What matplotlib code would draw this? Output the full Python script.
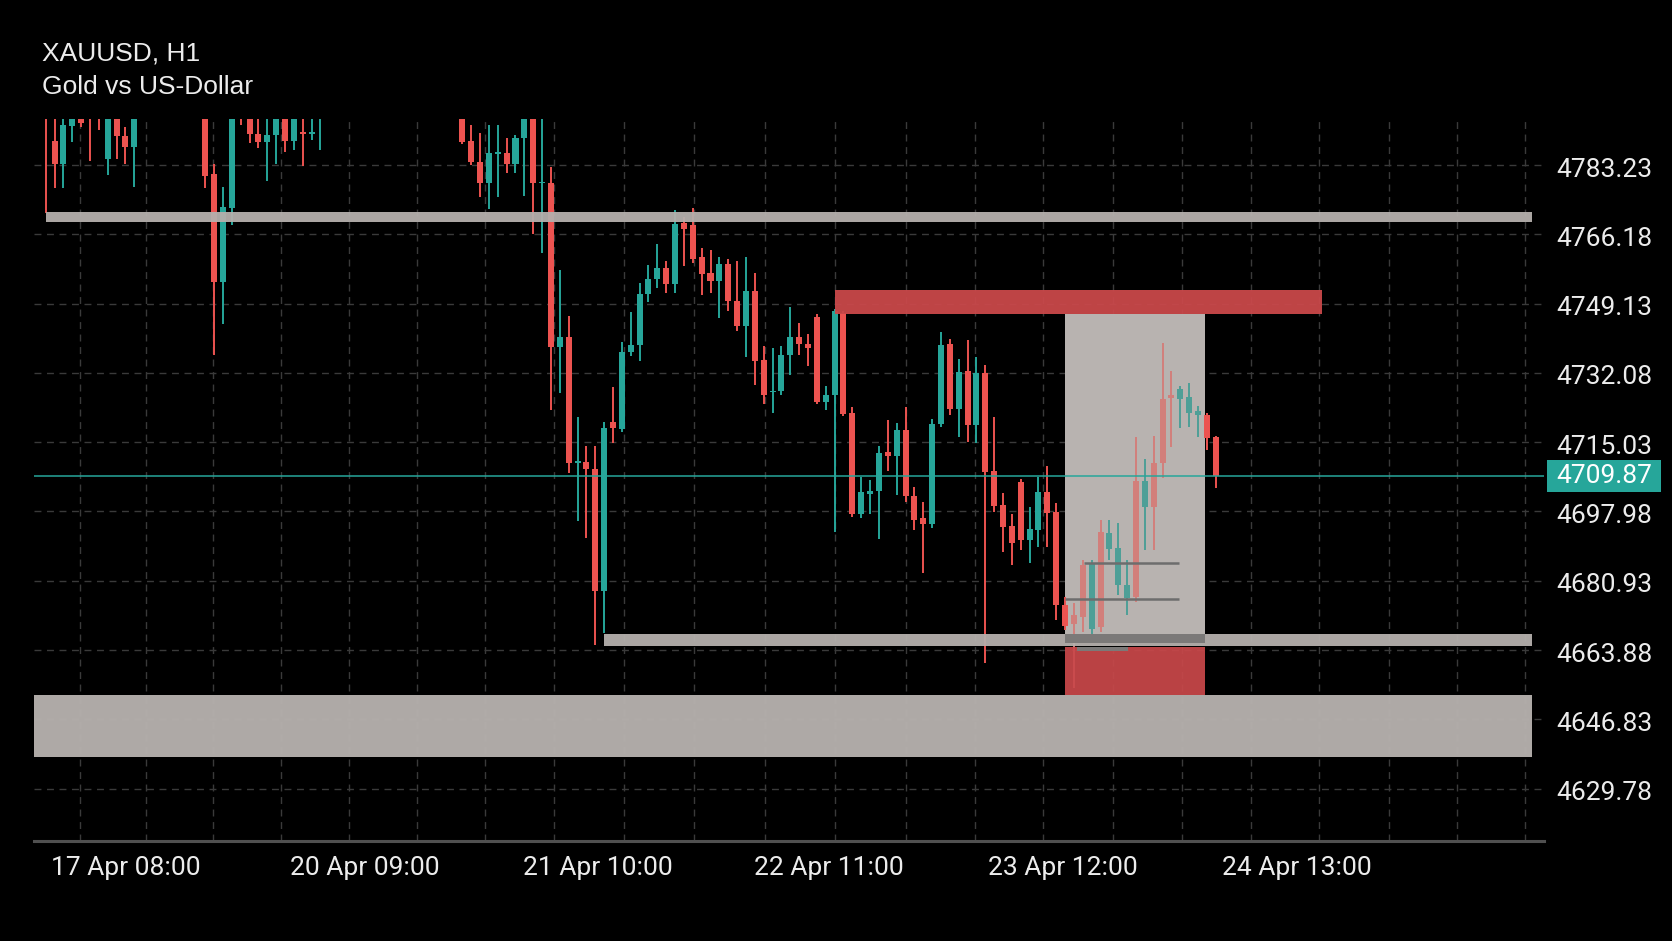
import matplotlib
matplotlib.use("Agg")
import matplotlib.pyplot as plt
import matplotlib.transforms as mtransforms
from matplotlib.patches import Rectangle
import numpy as np

# XAUUSD H1 candles, one entry per bar (bars above the visible range are still kept)
opens = [4806.0, 4789.2, 4783.6, 4792.9, 4794.7, 4800.0, 4799.0, 4784.6, 4795.5, 4790.4,
         4787.6, 4797.0, 4801.0, 4804.0, 4802.0, 4806.0, 4810.0, 4805.0, 4803.0, 4780.9,
         4754.4, 4772.6, 4799.0, 4796.5, 4790.9, 4788.8, 4790.6, 4795.5, 4789.2, 4791.4,
         4790.9, 4796.0, 4799.0, 4802.0, 4806.0, 4803.0, 4805.0, 4810.0, 4808.0, 4812.0,
         4815.0, 4812.0, 4809.0, 4811.0, 4807.0, 4804.0, 4806.0, 4797.0, 4789.1, 4784.0,
         4778.9, 4786.0, 4786.1, 4783.5, 4789.8, 4796.0, 4778.7, 4778.9, 4738.4, 4740.8,
         4710.0, 4710.2, 4708.4, 4678.3, 4719.9, 4718.3, 4737.2, 4738.9, 4751.4, 4755.1,
         4757.8, 4754.0, 4768.9, 4768.4, 4760.6, 4756.6, 4754.6, 4758.8, 4749.8, 4743.6,
         4752.2, 4735.3, 4727.4, 4727.6, 4736.4, 4740.8, 4739.3, 4745.9, 4725.0, 4726.7,
         4746.7, 4722.1, 4697.3, 4702.3, 4703.1, 4712.5, 4711.6, 4718.0, 4701.8, 4696.3,
         4695.0, 4719.6, 4739.2, 4723.2, 4732.5, 4719.3, 4732.0, 4708.0, 4699.6, 4694.4,
         4705.3, 4691.0, 4693.4, 4702.9, 4697.9, 4675.0, 4670.3, 4672.1, 4685.1, 4669.6,
         4692.7, 4689.0, 4679.9, 4677.0, 4705.5, 4699.2, 4710.0, 4725.8, 4728.0, 4726.1,
         4722.6, 4721.7, 4716.2]
highs = [4808.0, 4796.0, 4796.0, 4797.0, 4796.0, 4802.0, 4801.0, 4797.0, 4797.0, 4792.7,
         4798.0, 4803.0, 4806.0, 4809.0, 4808.0, 4812.0, 4813.0, 4808.0, 4806.0, 4783.6,
         4777.7, 4799.0, 4800.0, 4798.0, 4795.5, 4795.5, 4797.0, 4797.0, 4797.0, 4796.0,
         4795.5, 4800.0, 4804.0, 4808.0, 4810.0, 4807.0, 4812.0, 4815.0, 4813.0, 4818.0,
         4819.0, 4816.0, 4813.0, 4814.0, 4810.0, 4808.0, 4809.0, 4799.0, 4793.1, 4791.0,
         4793.1, 4793.1, 4789.8, 4790.6, 4798.0, 4798.0, 4796.0, 4782.8, 4757.4, 4746.2,
         4721.3, 4714.1, 4714.1, 4720.1, 4728.7, 4739.8, 4747.1, 4754.1, 4758.6, 4763.8,
         4759.7, 4772.2, 4770.5, 4772.6, 4762.8, 4762.3, 4760.6, 4760.1, 4759.7, 4760.6,
         4756.7, 4738.8, 4738.2, 4738.6, 4748.4, 4744.3, 4741.7, 4746.5, 4728.9, 4747.8,
         4747.4, 4723.7, 4706.5, 4705.7, 4714.1, 4720.5, 4719.8, 4723.7, 4704.0, 4700.4,
         4720.7, 4742.2, 4740.3, 4735.5, 4740.1, 4735.9, 4734.1, 4721.3, 4702.6, 4697.4,
         4705.9, 4699.0, 4706.5, 4709.2, 4700.0, 4677.0, 4675.5, 4686.1, 4686.1, 4695.9,
         4695.9, 4695.2, 4686.1, 4716.4, 4710.8, 4716.6, 4739.4, 4732.6, 4728.9, 4729.5,
         4723.9, 4722.1, 4716.6]
lows = [4771.5, 4777.5, 4777.5, 4789.0, 4792.6, 4784.3, 4791.8, 4780.8, 4784.6, 4783.6,
        4777.9, 4796.0, 4798.0, 4800.0, 4799.0, 4803.0, 4804.0, 4799.0, 4777.5, 4736.5,
        4744.0, 4768.5, 4793.1, 4788.7, 4787.3, 4779.4, 4783.6, 4786.5, 4786.8, 4783.1,
        4789.4, 4786.9, 4797.0, 4800.0, 4801.0, 4798.0, 4803.0, 4806.0, 4804.0, 4809.0,
        4810.0, 4807.0, 4804.0, 4805.0, 4801.0, 4799.0, 4800.0, 4788.3, 4783.2, 4775.3,
        4772.3, 4775.3, 4781.3, 4781.2, 4775.6, 4766.3, 4761.7, 4723.0, 4727.1, 4707.5,
        4695.7, 4691.4, 4665.1, 4668.0, 4714.9, 4717.6, 4736.2, 4735.0, 4749.6, 4752.9,
        4751.7, 4751.8, 4758.4, 4759.0, 4751.3, 4751.7, 4745.6, 4747.4, 4742.5, 4736.0,
        4729.2, 4724.5, 4722.2, 4726.6, 4731.6, 4736.4, 4733.8, 4724.5, 4723.0, 4692.9,
        4721.5, 4696.6, 4696.4, 4697.3, 4691.1, 4707.9, 4702.0, 4700.4, 4693.4, 4682.8,
        4693.8, 4718.8, 4721.7, 4716.3, 4715.2, 4714.8, 4660.8, 4697.9, 4688.1, 4684.8,
        4688.5, 4685.2, 4689.3, 4689.3, 4671.3, 4668.8, 4654.6, 4668.4, 4667.4, 4668.3,
        4686.1, 4677.4, 4672.5, 4675.8, 4688.5, 4688.5, 4706.2, 4713.8, 4718.5, 4718.7,
        4716.2, 4713.1, 4703.7]
closes = [4800.0, 4783.6, 4793.1, 4795.5, 4793.6, 4796.0, 4797.0, 4796.0, 4790.4, 4787.6,
          4796.0, 4801.0, 4804.0, 4802.0, 4806.0, 4810.0, 4805.0, 4803.0, 4780.5, 4754.4,
          4773.0, 4797.0, 4796.0, 4790.9, 4788.8, 4790.6, 4795.5, 4789.2, 4795.5, 4790.9,
          4791.4, 4799.0, 4802.0, 4806.0, 4803.0, 4805.0, 4810.0, 4808.0, 4812.0, 4815.0,
          4812.0, 4809.0, 4811.0, 4807.0, 4804.0, 4806.0, 4802.0, 4788.8, 4783.9, 4778.9,
          4786.1, 4786.2, 4783.5, 4789.8, 4796.0, 4778.9, 4778.9, 4738.4, 4740.8, 4709.8,
          4710.2, 4708.4, 4678.3, 4718.6, 4718.6, 4737.2, 4738.9, 4751.4, 4755.1, 4757.8,
          4754.0, 4768.7, 4767.6, 4760.0, 4756.3, 4754.6, 4758.8, 4749.8, 4743.6, 4752.2,
          4735.1, 4726.7, 4727.7, 4736.4, 4740.8, 4739.3, 4738.2, 4725.0, 4726.7, 4747.2,
          4721.9, 4697.3, 4702.8, 4703.1, 4712.3, 4711.6, 4718.0, 4701.7, 4695.9, 4695.0,
          4719.6, 4739.0, 4723.2, 4732.3, 4719.3, 4732.0, 4707.8, 4699.3, 4694.2, 4690.3,
          4691.0, 4693.6, 4702.9, 4697.6, 4675.0, 4669.8, 4672.5, 4684.8, 4669.1, 4692.9,
          4688.8, 4680.0, 4676.8, 4705.6, 4699.2, 4710.0, 4725.7, 4726.6, 4725.6, 4722.2,
          4721.7, 4716.0, 4706.7]

price_ticks = [4783.23, 4766.18, 4749.13, 4732.08, 4715.03,
               4697.98, 4680.93, 4663.88, 4646.83, 4629.78]
time_labels = ["17 Apr 08:00", "20 Apr 09:00", "21 Apr 10:00",
               "22 Apr 11:00", "23 Apr 12:00", "24 Apr 13:00"]
time_label_bars = [9.0, 36.0, 62.3, 88.4, 114.8, 141.1]
# vertical grid positions, in bars
grid_bars = [3.9, 11.3, 18.9, 26.5, 34.2, 41.9, 49.6, 57.3, 65.2, 73.1, 81.2,
             89.1, 97.0, 104.8, 112.5, 120.4, 128.2, 136.0, 143.6, 151.5, 159.2, 166.9]
last_price_label = "4709.87"

# drawn objects: (first bar, last bar, low price, high price)
resistance_zone = (0.0, 167.7, 4769.1, 4771.7)
supply_zone = (89.1, 144.0, 4746.5, 4752.5)
support_zone = (63.0, 167.7, 4665.0, 4667.8)
demand_zone = (-1.4, 167.7, 4637.7, 4652.8)
range_box = (115.0, 130.8, 4667.8, 4746.5)
stop_box = (115.0, 130.8, 4652.9, 4664.7)
overlap_strip = (115.0, 130.8, 4665.6, 4667.8)
small_strip = (116.3, 122.1, 4663.7, 4664.7)
# (first bar, last bar, price)
entry_lines = [(117.1, 127.9, 4685.4), (115.0, 127.9, 4676.5)]

BG = "#000000"
UP = "#26a69a"
DOWN = "#ec5350"
UP_IN_BOX = "#4e9f97"
DOWN_IN_BOX = "#d27f7b"
ZONE_GRAY = "#b5b0ad"
ZONE_RED = "#c9484a"
GRID = "#3a3a3a"
TEXT = "#ececec"

W, H = 1672, 941
fig = plt.figure(figsize=(W / 100, H / 100), dpi=100, facecolor=BG)
ax = fig.add_axes([34 / W, 100 / H, 1510 / W, 722 / H])
ax.set_facecolor(BG)
ax.set_xlim(-1.32, 169.03)
ax.set_ylim(4616.91, 4794.55)


def zone(z, color, zorder, alpha=1.0):
    x0, x1, y0, y1 = z
    ax.add_patch(Rectangle((x0, y0), x1 - x0, y1 - y0, facecolor=color,
                           edgecolor="none", alpha=alpha, zorder=zorder))


# grid
ax.set_yticks(price_ticks, [f"{v:.2f}" for v in price_ticks])
ax.yaxis.grid(True, color=GRID, ls=(0, (5, 4)), lw=1.0)
ax.set_axisbelow(True)
for gx in grid_bars:
    ax.axvline(gx, color=GRID, ls=(0, (5, 4)), lw=1.0, zorder=0.5)

# candles
o = np.array(opens)
h = np.array(highs)
l = np.array(lows)
c = np.array(closes)
x = np.arange(len(o))
bull = c >= o
inside = (x > range_box[0] + 0.5) & (x < range_box[1])
col = np.where(bull, UP, DOWN).astype(object)
col[inside & bull] = DOWN_IN_BOX   # the box inverts candle colours
col[inside & ~bull] = UP_IN_BOX
col = list(col)

zone(range_box, "#b8b3b0", 1.5)
ax.vlines(x, l, h, colors=col, lw=1.4, zorder=3)
ax.bar(x, np.maximum(np.abs(c - o), 0.35), bottom=np.minimum(o, c),
       width=0.68, color=col, linewidth=0, zorder=3)

zone(resistance_zone, ZONE_GRAY, 4, 0.95)
zone(support_zone, ZONE_GRAY, 4, 0.95)
zone(demand_zone, ZONE_GRAY, 4, 0.97)
zone(supply_zone, ZONE_RED, 4, 0.95)
zone(stop_box, ZONE_RED, 4, 0.93)
zone(overlap_strip, "#7b7978", 4.5)
zone(small_strip, "#7b7978", 4.5)
for x0, x1, y in entry_lines:
    ax.hlines(y, x0, x1, colors="#6d6d6d", lw=1.8, zorder=4.6)

# last price line and tag
last = closes[-1]
ax.axhline(last, color=UP, lw=1.1, zorder=5)
trans = mtransforms.blended_transform_factory(ax.transAxes, ax.transData)
ax.add_patch(Rectangle((1.002, last - 3.9), 0.0755, 7.8, transform=trans,
                       facecolor=UP, edgecolor="none", clip_on=False, zorder=6))
ax.text(1.0084, last, last_price_label, transform=trans, ha="left", va="center",
        color="white", fontsize=19, family="Roboto", zorder=7)

# axes styling
for s in ["top", "left", "right"]:
    ax.spines[s].set_visible(False)
ax.spines["bottom"].set_color("#505050")
ax.spines["bottom"].set_linewidth(2.2)
ax.yaxis.tick_right()
ax.tick_params(axis="y", length=0, pad=9, labelsize=19, labelcolor=TEXT)
ax.set_xticks(time_label_bars, time_labels)
ax.tick_params(axis="x", length=0, pad=10.5, labelsize=19, labelcolor=TEXT)
shift_down = mtransforms.ScaledTranslation(0, -1.5 / 72, fig.dpi_scale_trans)
for lab in ax.get_yticklabels():
    lab.set_family("Roboto")
    lab.set_transform(lab.get_transform() + shift_down)
for lab in ax.get_xticklabels():
    lab.set_family("Roboto")

fig.text(41.6 / W, 1 - 54 / H, "XAUUSD, H1", color=TEXT, fontsize=19,
         family="Liberation Sans", ha="left", va="center")
fig.text(41.6 / W, 1 - 87.5 / H, "Gold vs US-Dollar", color=TEXT, fontsize=19,
         family="Liberation Sans", ha="left", va="center")

fig.savefig("out.png", dpi=100, facecolor=BG)
